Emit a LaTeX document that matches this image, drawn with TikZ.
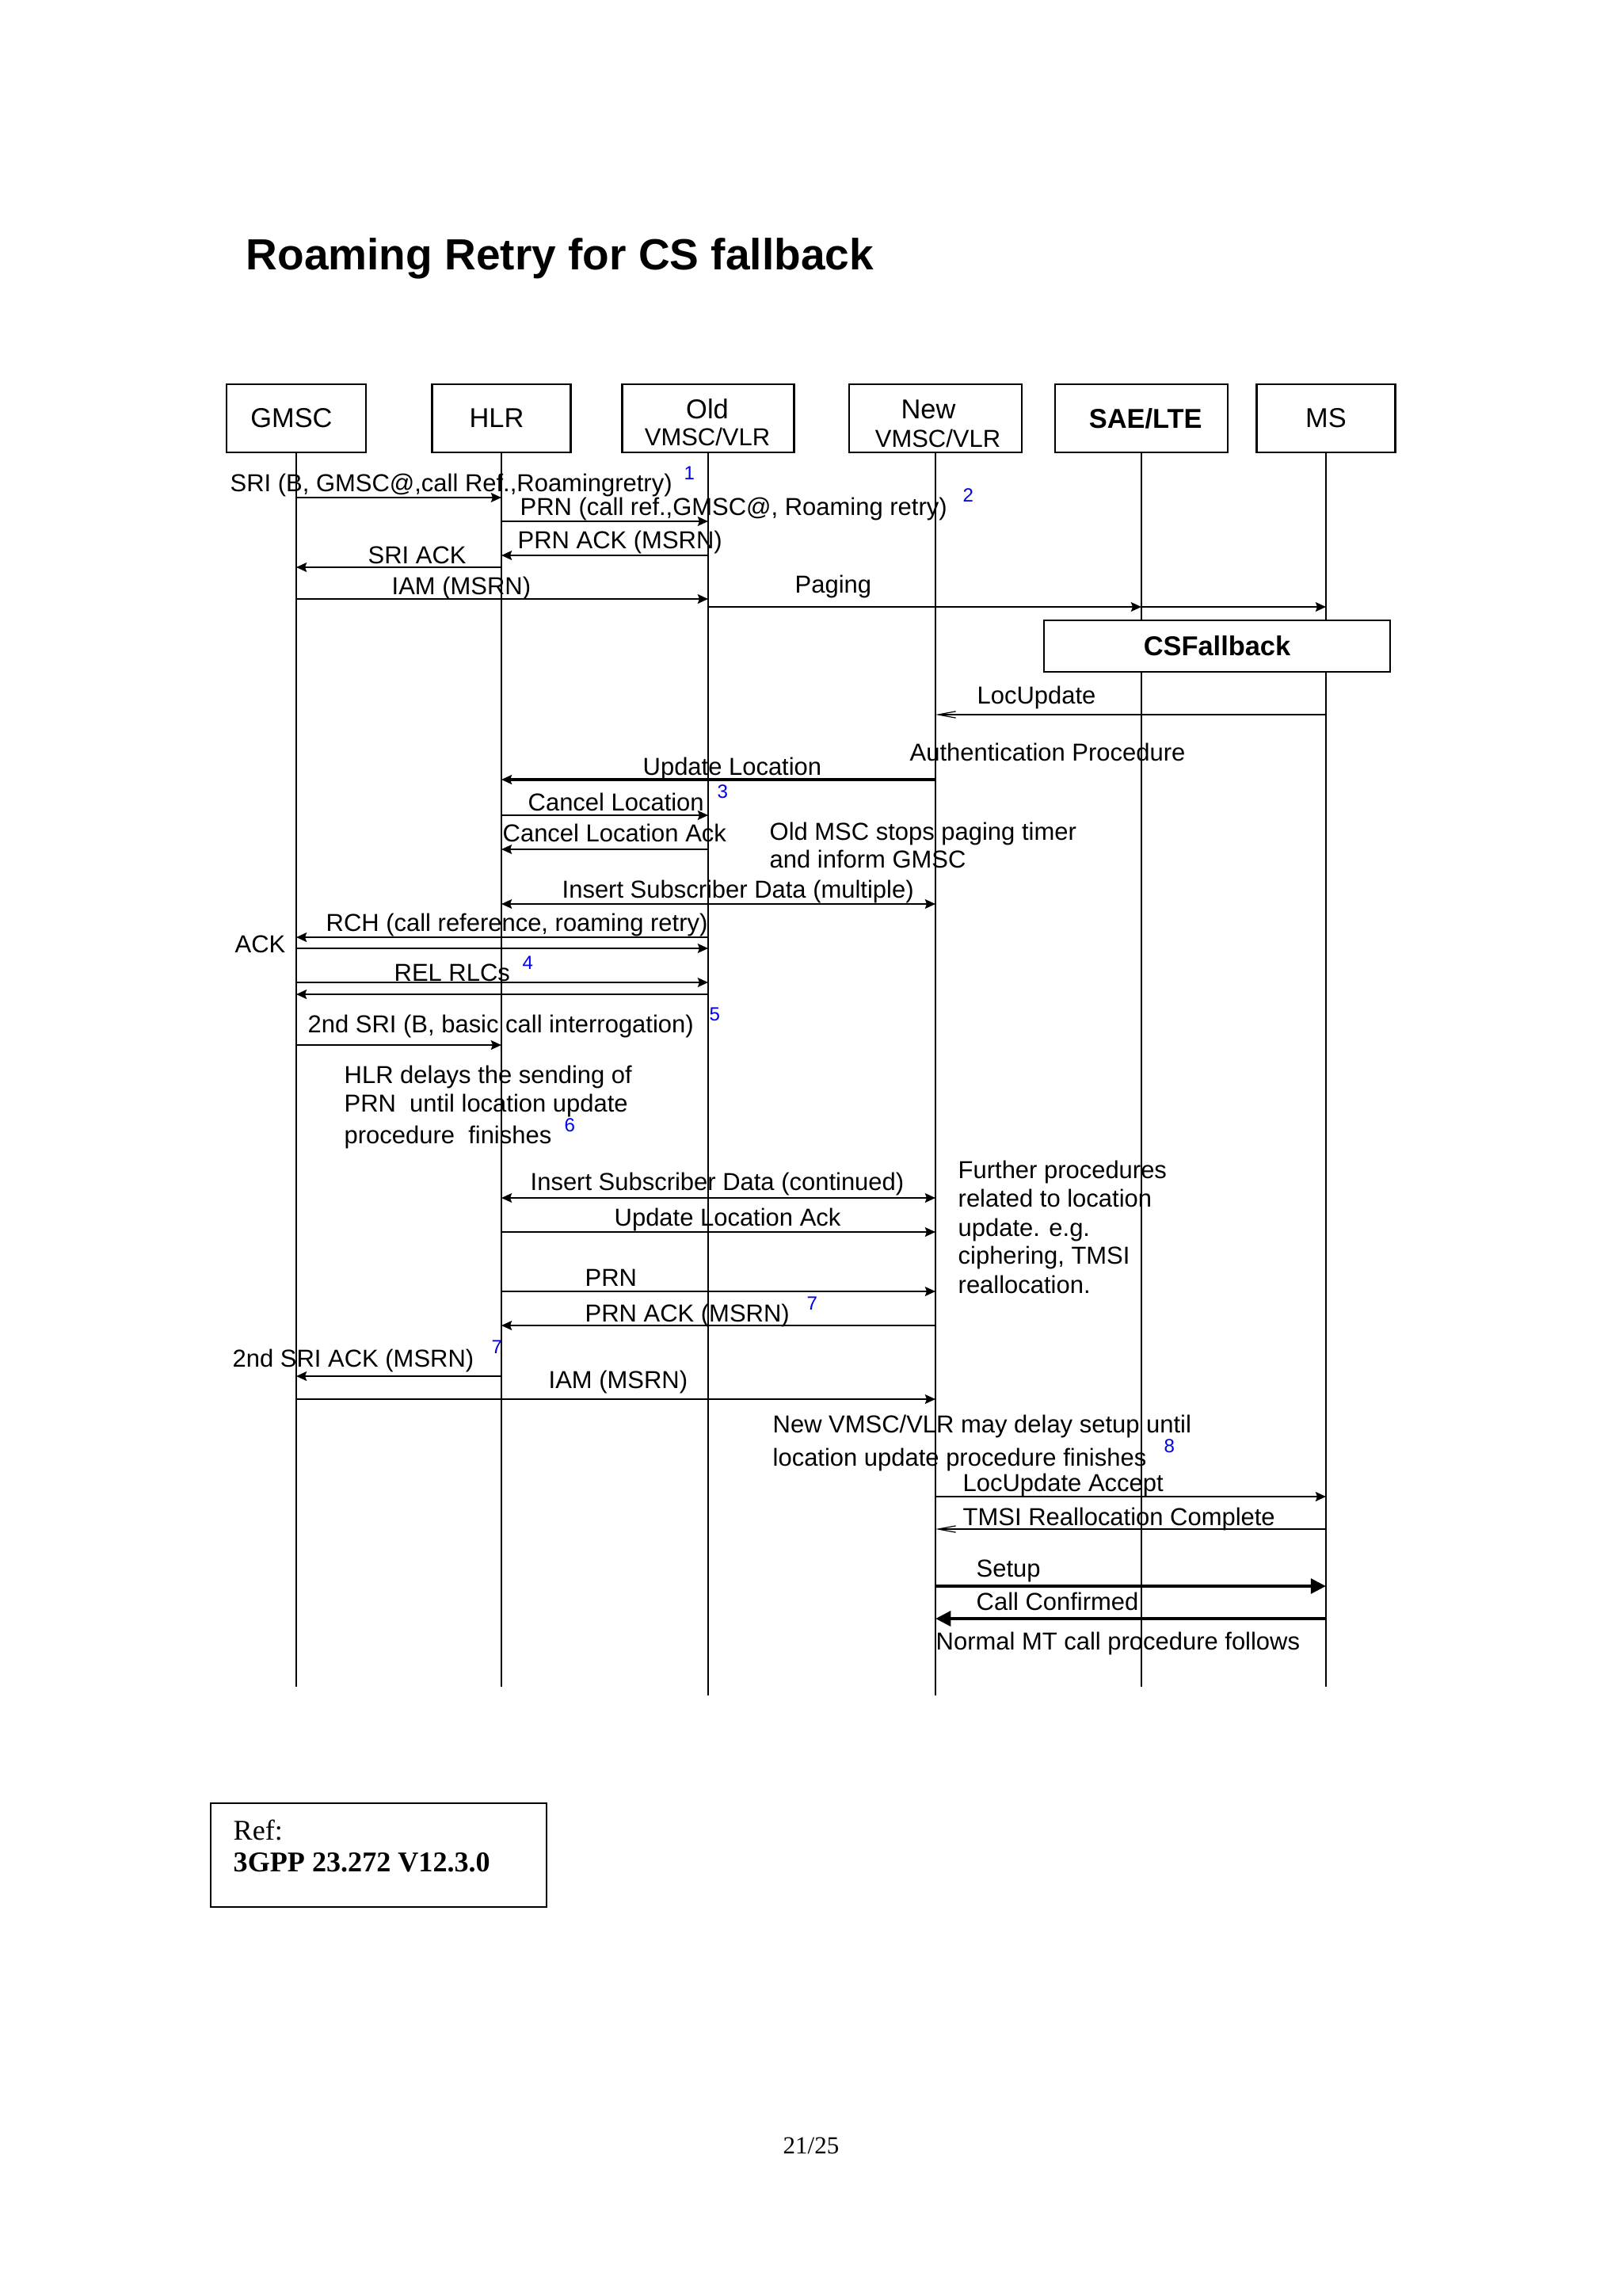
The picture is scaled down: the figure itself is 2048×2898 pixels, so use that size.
\documentclass[tikz,border=0pt]{standalone}
\usepackage{fontspec}
\setmainfont{Liberation Sans}
\newfontfamily\refserif{Liberation Serif}
\usetikzlibrary{arrows.meta}
\definecolor{numblue}{RGB}{0,0,235}
\newcommand\pxu{0.29067pt}
\begin{document}
\begin{tikzpicture}[x=0.29067pt,y=-0.29067pt,
 box/.style={draw, line width=0.6pt, fill=white, inner sep=0pt, minimum height=86*\pxu, font=\fontsize{10}{12}\selectfont},
 life/.style={line width=0.6pt},
 msg/.style={line width=0.7pt, -{Stealth[length=3.8pt,width=3.4pt,inset=0.6pt]}},
 msgb/.style={line width=0.7pt, {Stealth[length=3.8pt,width=3.4pt,inset=0.6pt]}-{Stealth[length=3.8pt,width=3.4pt,inset=0.6pt]}},
 msgthin/.style={line width=0.35pt, -{Straight Barb[length=6.5pt,width=2.4pt]}},
 msgthick/.style={line width=1.3pt, -{Triangle[length=5.6pt,width=5.4pt]}},
 lbl/.style={inner sep=0pt, anchor=base west, font=\fontsize{9}{10}\selectfont},
 num/.style={inner sep=0pt, anchor=base west, font=\fontsize{7}{8}\selectfont, text=numblue},
]
\useasboundingbox (0,0) rectangle (2048,2898);

% title
\node[inner sep=0pt, anchor=base west, font=\fontsize{16}{19}\bfseries] (title) at (310,340) {Roaming Retry for CS fallback};

% entity boxes
\node[box, minimum width=176*\pxu] (GMSC) at (374,528) {GMSC\kern3.5pt};
\node[box, minimum width=175*\pxu] (HLR) at (633,528) {HLR\kern3.5pt};
\node[box, minimum width=217*\pxu] (OLD) at (894,528) {};
\node[box, minimum width=218*\pxu] (NEW) at (1181,528) {};
\node[box, minimum width=218*\pxu, font=\fontsize{10}{12}\bfseries] (SAE) at (1441,528) {\kern3pt SAE/LTE};
\node[box, minimum width=175*\pxu] (MS) at (1674,528) {MS};
\node[inner sep=0pt, anchor=base, font=\fontsize{10}{12}\selectfont] (oldA) at (893,528) {Old};
\node[inner sep=0pt, anchor=base, font=\fontsize{9}{10}\selectfont] (oldB) at (893,562) {VMSC/VLR};
\node[inner sep=0pt, anchor=base, font=\fontsize{10}{12}\selectfont] (newA) at (1172,528) {New};
\node[inner sep=0pt, anchor=base, font=\fontsize{9}{10}\selectfont] (newB) at (1184,564) {VMSC/VLR};

% lifeline ends
\coordinate (endA) at (0,2129);
\coordinate (endB) at (0,2140);
\draw[life] (GMSC) -- (GMSC |- endA);
\draw[life] (HLR) -- (HLR |- endA);
\draw[life] (OLD) -- (OLD |- endB);
\draw[life] (NEW) -- (NEW |- endB);
\draw[life] (SAE) -- (SAE |- endA);
\draw[life] (MS) -- (MS |- endA);

% CS fallback box
\node[box, minimum width=437*\pxu, minimum height=65*\pxu, font=\fontsize{10}{12}\bfseries] (CSF) at (1536.5,815.5) {CSFallback};

% message rows
\coordinate (r1) at (0,628);
\coordinate (r2) at (0,658);
\coordinate (r3) at (0,701);
\coordinate (r4) at (0,716);
\coordinate (r5) at (0,756);
\coordinate (r6) at (0,766);
\coordinate (r7) at (0,902);
\coordinate (r8) at (0,984);
\coordinate (r9) at (0,1029);
\coordinate (r10) at (0,1072);
\coordinate (r11) at (0,1141);
\coordinate (r12) at (0,1183);
\coordinate (r13) at (0,1197);
\coordinate (r14) at (0,1240);
\coordinate (r15) at (0,1255);
\coordinate (r16) at (0,1319);
\coordinate (r17) at (0,1512);
\coordinate (r18) at (0,1555);
\coordinate (r19) at (0,1630);
\coordinate (r20) at (0,1673);
\coordinate (r21) at (0,1737);
\coordinate (r22) at (0,1766);
\coordinate (r23) at (0,1889);
\coordinate (r24) at (0,1930);
\coordinate (r25) at (0,2002);
\coordinate (r26) at (0,2043);

% messages
\draw[msg] (GMSC |- r1) -- (HLR |- r1);
\draw[msg] (HLR |- r2) -- (OLD |- r2);
\draw[msg] (OLD |- r3) -- (HLR |- r3);
\draw[msg] (HLR |- r4) -- (GMSC |- r4);
\draw[msg] (GMSC |- r5) -- (OLD |- r5);
\draw[msg] (OLD |- r6) -- (SAE |- r6);
\draw[msg] (SAE |- r6) -- (MS |- r6);
\draw[msgthin] (MS |- r7) -- (NEW |- r7);
\draw[msg, line width=1.1pt] (NEW |- r8) -- (HLR |- r8);
\draw[msg] (HLR |- r9) -- (OLD |- r9);
\draw[msg] (OLD |- r10) -- (HLR |- r10);
\draw[msgb] (HLR |- r11) -- (NEW |- r11);
\draw[msg] (OLD |- r12) -- (GMSC |- r12);
\draw[msg] (GMSC |- r13) -- (OLD |- r13);
\draw[msg] (GMSC |- r14) -- (OLD |- r14);
\draw[msg] (OLD |- r15) -- (GMSC |- r15);
\draw[msg] (GMSC |- r16) -- (HLR |- r16);
\draw[msgb] (HLR |- r17) -- (NEW |- r17);
\draw[msg] (HLR |- r18) -- (NEW |- r18);
\draw[msg] (HLR |- r19) -- (NEW |- r19);
\draw[msg] (NEW |- r20) -- (HLR |- r20);
\draw[msg] (HLR |- r21) -- (GMSC |- r21);
\draw[msg] (GMSC |- r22) -- (NEW |- r22);
\draw[msg] (NEW |- r23) -- (MS |- r23);
\draw[msgthin] (MS |- r24) -- (NEW |- r24);
\draw[msgthick] (NEW |- r25) -- (MS |- r25);
\draw[msgthick] (MS |- r26) -- (NEW |- r26);

% labels
\node[lbl] (l1) at (290,620) {SRI (B, GMSC@,call Ref.,Roamingretry)};
\node[num] (n1) at (863,605) {1};
\node[lbl] (l2) at (656,650) {PRN (call ref.,GMSC@, Roaming retry)};
\node[num] (n2) at (1215,633) {2};
\node[lbl] (l3) at (653,692) {PRN ACK (MSRN)};
\node[lbl] (l4) at (464,711) {SRI ACK};
\node[lbl] (l5) at (494,750) {IAM (MSRN)};
\node[lbl] (l6) at (1003,748) {Paging};
\node[lbl] (l7) at (1233,888) {LocUpdate};
\node[lbl] (l8) at (1148,960) {Authentication Procedure};
\node[lbl] (l9) at (811,978) {Update Location};
\node[num] (n3) at (905,1007) {3};
\node[lbl] (l10) at (666,1023) {Cancel Location};
\node[lbl] (l11) at (634,1062) {Cancel Location Ack};
\node[lbl] (l12a) at (971,1060) {Old MSC stops paging timer};
\node[lbl] (l12b) at (971,1095) {and inform GMSC};
\node[lbl] (l13) at (709,1133) {Insert Subscriber Data (multiple)};
\node[lbl] (l14) at (411,1175) {RCH (call reference, roaming retry)};
\node[lbl] (l15) at (296,1202) {ACK};
\node[num] (n4) at (659,1223) {4};
\node[lbl] (l16) at (497,1238) {REL RLCs};
\node[num] (n5) at (895,1288) {5};
\node[lbl] (l17) at (388,1303) {2nd SRI (B, basic call interrogation)};
\node[lbl] (l18a) at (434,1367) {HLR delays the sending of};
\node[lbl] (l18b) at (434,1403) {PRN\ \ until location update};
\node[lbl] (l18c) at (434,1443) {procedure\ \ finishes};
\node[num] (n6) at (712,1428) {6};
\node[lbl] (l19) at (669,1502) {Insert Subscriber Data (continued)};
\node[lbl] (l20) at (775,1547) {Update Location Ack};
\node[lbl] (l21) at (738,1623) {PRN};
\node[lbl] (l22) at (738,1668) {PRN ACK (MSRN)};
\node[num] (n7) at (1018,1653) {7};
\node[lbl] (l23a) at (1209,1487) {Further procedures};
\node[lbl] (l23b) at (1209,1523) {related to location};
\node[lbl] (l23c) at (1209,1560) {update. e.g.};
\node[lbl] (l23d) at (1209,1595) {ciphering, TMSI};
\node[lbl] (l23e) at (1209,1632) {reallocation.};
\node[lbl] (l24) at (293,1725) {2nd SRI ACK (MSRN)};
\node[num] (n7b) at (620,1708) {7};
\node[lbl] (l25) at (692,1752) {IAM (MSRN)};
\node[lbl] (l26a) at (975,1808) {New VMSC/VLR may delay setup until};
\node[lbl] (l26b) at (975,1850) {location update procedure finishes};
\node[num] (n8) at (1469,1833) {8};
\node[lbl] (l27) at (1215,1882) {LocUpdate Accept};
\node[lbl] (l28) at (1215,1925) {TMSI Reallocation Complete};
\node[lbl] (l29) at (1232,1990) {Setup};
\node[lbl] (l30) at (1232,2032) {Call Confirmed};
\node[lbl] (l31) at (1181,2082) {Normal MT call procedure follows};

% reference box
\node[draw, line width=0.6pt, inner sep=0pt, minimum width=424*\pxu, minimum height=131*\pxu] (REF) at (478,2341.5) {};
\node[inner sep=0pt, anchor=base west, font=\refserif\fontsize{10.5}{12}\selectfont] (refa) at (294,2322) {Ref:};
\node[inner sep=0pt, anchor=base west, font=\refserif\fontsize{10.5}{12}\selectfont\bfseries] (refb) at (294,2362) {3GPP 23.272 V12.3.0};

% page number
\node[inner sep=0pt, anchor=base, font=\refserif\fontsize{9}{11}\selectfont] (page) at (1024,2718) {21/25};
\end{tikzpicture}
\end{document}
